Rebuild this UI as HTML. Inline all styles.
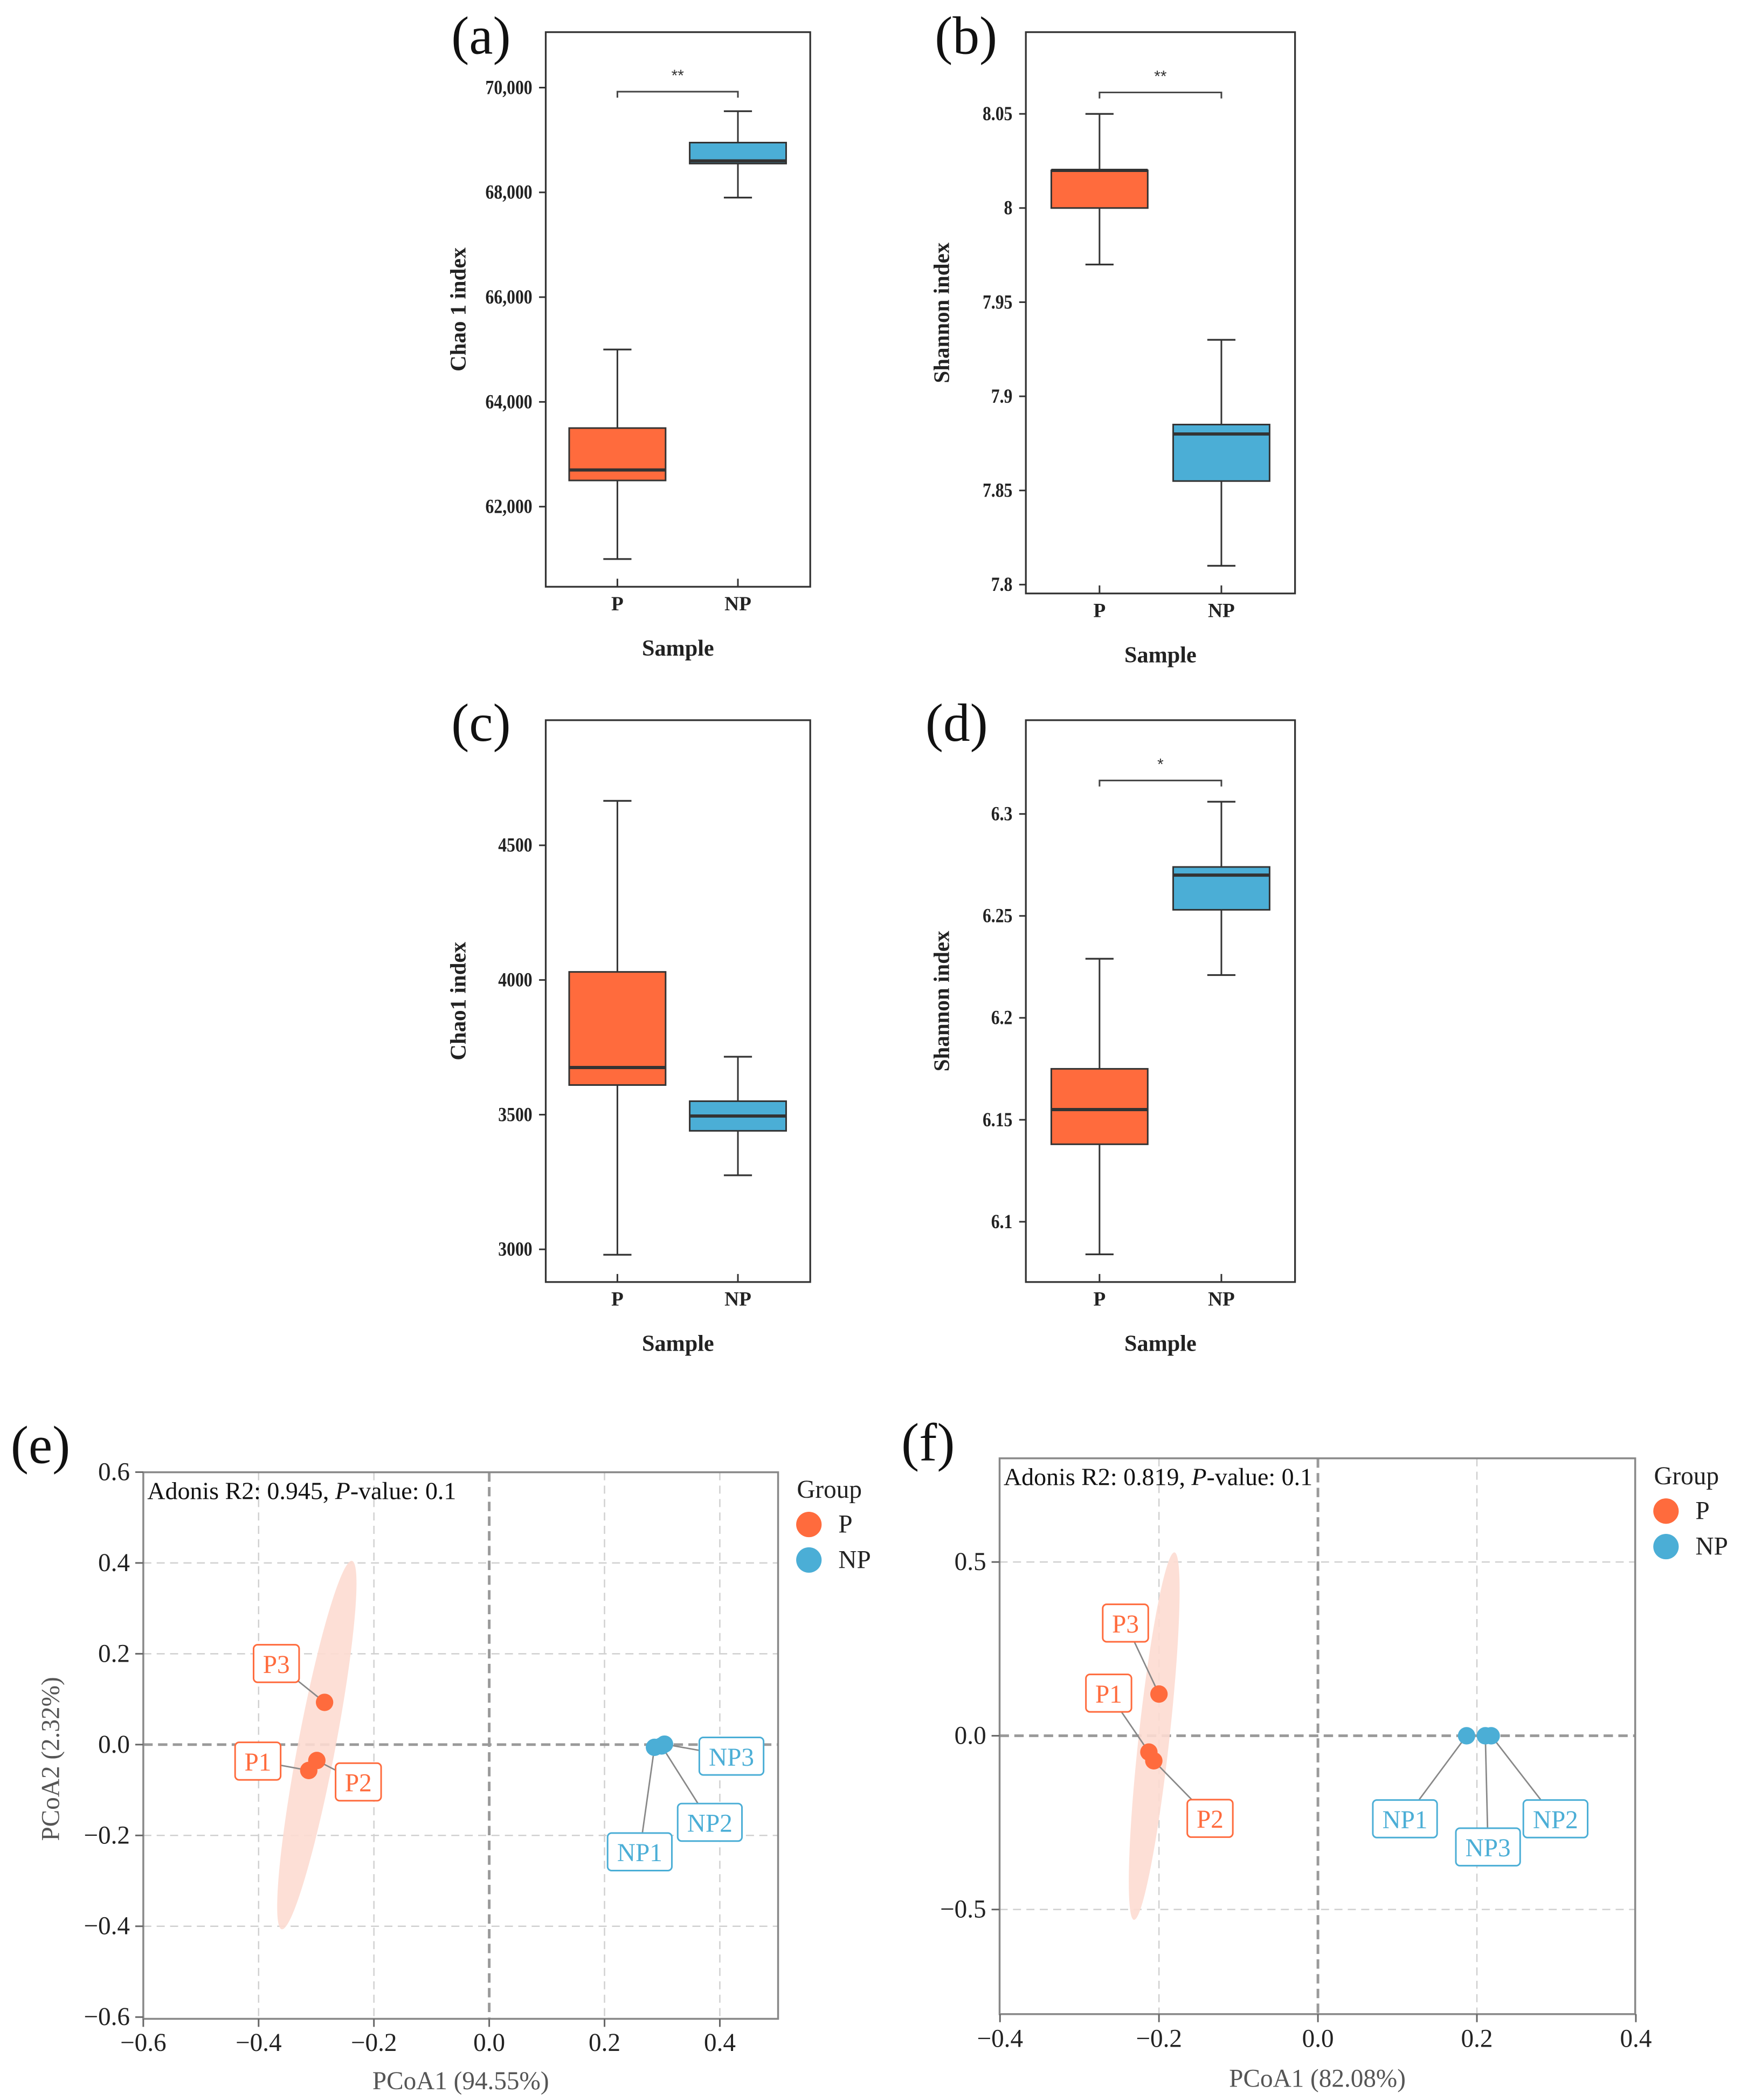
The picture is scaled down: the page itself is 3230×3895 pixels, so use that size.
<!DOCTYPE html>
<html><head><meta charset="utf-8">
<style>
html,body{margin:0;padding:0;background:#fff;}
svg{display:block;}
</style></head>
<body>
<svg id="fig" xmlns="http://www.w3.org/2000/svg" width="3230" height="3895" viewBox="0 0 1300 1567.6" preserveAspectRatio="none"></svg>
<script>
// ---------- Box plot data ----------
const boxCategories = ["P", "NP"];
const aP = [61000, 62500, 62700, 63500, 65000];
const aNP = [67900, 68550, 68600, 68950, 69550];
const aTicks = [62000, 64000, 66000, 68000, 70000];
const aTickLabels = ["62,000", "64,000", "66,000", "68,000", "70,000"];
const bP = [7.97, 8.0, 8.02, 8.02, 8.05];
const bNP = [7.81, 7.855, 7.88, 7.885, 7.93];
const bTicks = [7.8, 7.85, 7.9, 7.95, 8.0, 8.05];
const bTickLabels = ["7.8", "7.85", "7.9", "7.95", "8", "8.05"];
const cP = [2980, 3610, 3675, 4030, 4665];
const cNP = [3275, 3440, 3495, 3550, 3715];
const cTicks = [3000, 3500, 4000, 4500];
const cTickLabels = ["3000", "3500", "4000", "4500"];
const dP = [6.084, 6.138, 6.155, 6.175, 6.229];
const dNP = [6.221, 6.253, 6.27, 6.274, 6.306];
const dTicks = [6.1, 6.15, 6.2, 6.25, 6.3];
const dTickLabels = ["6.1", "6.15", "6.2", "6.25", "6.3"];

// ---------- PCoA data ----------
const sampleNames = ["P1", "P2", "P3", "NP1", "NP2", "NP3"];
const sampleGroups = ["P", "P", "P", "NP", "NP", "NP"];
const ePC1 = [-0.313, -0.299, -0.2856, 0.2866, 0.299, 0.304];
const ePC2 = [-0.057, -0.035, 0.093, -0.006, -0.003, 0.001];
const fPC1 = [-0.2127, -0.2065, -0.2, 0.187, 0.218, 0.2106];
const fPC2 = [-0.047, -0.072, 0.12, 0, 0, 0];
const eXTicks = [-0.6, -0.4, -0.2, 0.0, 0.2, 0.4];
const eYTicks = [-0.6, -0.4, -0.2, 0.0, 0.2, 0.4, 0.6];
const fXTicks = [-0.4, -0.2, 0.0, 0.2, 0.4];
const fYTicks = [-0.5, 0.0, 0.5];

const NS = "http://www.w3.org/2000/svg";
const svg = document.getElementById("fig");
const ORANGE = "#FF6B3D", BLUE = "#4BAED6";
function mk(tag, attrs, parent) {
  const e = document.createElementNS(NS, tag);
  for (const k in attrs) e.setAttribute(k, attrs[k]);
  (parent || svg).appendChild(e);
  return e;
}
function txt(s, attrs, parent) { const t = mk("text", attrs, parent); t.textContent = s; return t; }
const SERIF = "'Liberation Serif', serif";

// ---------- Box plot panel ----------
function boxPanel(o) {
  const g = mk("g", {});
  
  
  const y = v => o.y0 + (o.v0 - v) * o.k;
  const xs = [o.xP, o.xNP];
  const pl = txt(o.label, {x: o.lx, y: o.ly, "font-family": SERIF, "font-size": 40, fill: "#111"}, g);
  
  
  const fr = mk("rect", {x: o.L, y: o.T, width: o.R - o.L, height: o.B - o.T, fill: "none", stroke: "#333", "stroke-width": 1.3}, g);
  
  
  o.ticks.forEach((t, i) => {
    const yy = y(t);
    mk("line", {x1: o.L - 5, x2: o.L, y1: yy, y2: yy, stroke: "#333", "stroke-width": 1.2}, g);
    const tl = txt(o.tickLabels[i], {x: o.L - 10, y: yy, "text-anchor": "end", "dominant-baseline": "central", "font-family": SERIF, "font-weight": "bold", "font-size": 15, fill: "#222", transform: `translate(${o.L - 10},${yy}) scale(0.85,1) translate(${-(o.L - 10)},${-yy})`}, g);
    
    
  });
  boxCategories.forEach((c, i) => {
    mk("line", {x1: xs[i], x2: xs[i], y1: o.B, y2: o.B - 6, stroke: "#333", "stroke-width": 1.2}, g);
    const xl = txt(c, {x: xs[i], y: o.B + 13, "text-anchor": "middle", "dominant-baseline": "central", "font-family": SERIF, "font-weight": "bold", "font-size": 15, fill: "#222"}, g);
    
    
  });
  const xt = txt("Sample", {x: (o.L + o.R) / 2, y: o.B + 46, "text-anchor": "middle", "dominant-baseline": "central", "font-family": SERIF, "font-weight": "bold", "font-size": 17, fill: "#222"}, g);
  
  
  const cy = (o.T + o.B) / 2;
  const yt = txt(o.ytitle, {x: o.ytx, y: cy, "text-anchor": "middle", "dominant-baseline": "central", "font-family": SERIF, "font-weight": "bold", "font-size": 16.5, fill: "#222", transform: `rotate(-90 ${o.ytx} ${cy})`}, g);
  
  
  [o.P, o.NP].forEach((d, i) => {
    const cx = xs[i], col = i === 0 ? ORANGE : BLUE;
    const bg = mk("g", {}, g);
    
    
    mk("line", {x1: cx, x2: cx, y1: y(d[0]), y2: y(d[1]), stroke: "#333", "stroke-width": 1.2}, bg);
    mk("line", {x1: cx, x2: cx, y1: y(d[3]), y2: y(d[4]), stroke: "#333", "stroke-width": 1.2}, bg);
    mk("line", {x1: cx - 10.5, x2: cx + 10.5, y1: y(d[0]), y2: y(d[0]), stroke: "#333", "stroke-width": 1.3}, bg);
    mk("line", {x1: cx - 10.5, x2: cx + 10.5, y1: y(d[4]), y2: y(d[4]), stroke: "#333", "stroke-width": 1.3}, bg);
    mk("rect", {x: cx - 36, y: y(d[3]), width: 72, height: Math.max(0.5, y(d[1]) - y(d[3])), fill: col, stroke: "#333", "stroke-width": 1.2}, bg);
    mk("line", {x1: cx - 36, x2: cx + 36, y1: y(d[2]), y2: y(d[2]), stroke: "#333", "stroke-width": 2.4}, bg);
  });
  if (o.sig) {
    const by = o.sigY;
    const br = mk("path", {d: `M${xs[0]},${by + 4.5} V${by} H${xs[1]} V${by + 4.5}`, fill: "none", stroke: "#444", "stroke-width": 1.2}, g);
    
    
    const st = txt(o.sig, {x: (xs[0] + xs[1]) / 2, y: by - 8, "text-anchor": "middle", "font-family": "'Liberation Sans', sans-serif", "font-size": 12, fill: "#333"}, g);
    
    
  }
}

boxPanel({name: "panel-a-chao1", label: "(a)", lx: 337, ly: 40, L: 407.5, R: 605, T: 24, B: 438, xP: 461, xNP: 551,
  y0: 65.4, v0: 70000, k: 78.2 / 2000, P: aP, NP: aNP, ticks: aTicks, tickLabels: aTickLabels, ytitle: "Chao 1 index", ytx: 342, sig: "**", sigY: 68.4});
boxPanel({name: "panel-b-shannon", label: "(b)", lx: 698, ly: 40, L: 766, R: 967, T: 24, B: 443, xP: 821, xNP: 912,
  y0: 85, v0: 8.05, k: 1405.6, P: bP, NP: bNP, ticks: bTicks, tickLabels: bTickLabels, ytitle: "Shannon index", ytx: 703, sig: "**", sigY: 69});
boxPanel({name: "panel-c-chao1", label: "(c)", lx: 337, ly: 553, L: 407.5, R: 605, T: 537.6, B: 957, xP: 461, xNP: 551,
  y0: 631, v0: 4500, k: 301.6 / 1500, P: cP, NP: cNP, ticks: cTicks, tickLabels: cTickLabels, ytitle: "Chao1 index", ytx: 342});
boxPanel({name: "panel-d-shannon", label: "(d)", lx: 691, ly: 553, L: 766, R: 967, T: 537.6, B: 957, xP: 821, xNP: 912,
  y0: 607.6, v0: 6.3, k: 304.4 / 0.2, P: dP, NP: dNP, ticks: dTicks, tickLabels: dTickLabels, ytitle: "Shannon index", ytx: 703, sig: "*", sigY: 582.6});

// ---------- PCoA panel ----------
function pcoaPanel(o) {
  const g = mk("g", {});
  
  
  const X = v => o.x0 + v * o.kx;
  const Y = v => o.y0 - v * o.ky;
  const pl = txt(o.label, {x: o.lx, y: o.ly, "font-family": SERIF, "font-size": 40, fill: "#111"}, g);
  
  
  o.xt.forEach(t => {
    if (Math.abs(t) < 1e-9) return;
    if (X(t) <= o.L + 4 || X(t) >= o.R - 4) return;
    mk("line", {x1: X(t), x2: X(t), y1: o.T, y2: o.B, stroke: "#d0d0d0", "stroke-width": 1, "stroke-dasharray": "6,4"}, g);
  });
  o.yt.forEach(t => {
    if (Math.abs(t) < 1e-9) return;
    if (Y(t) <= o.T + 4 || Y(t) >= o.B - 4) return;
    mk("line", {x1: o.L, x2: o.R, y1: Y(t), y2: Y(t), stroke: "#d0d0d0", "stroke-width": 1, "stroke-dasharray": "6,4"}, g);
  });
  const zx = mk("line", {x1: X(0), x2: X(0), y1: o.T, y2: o.B, stroke: "#9a9a9a", "stroke-width": 2, "stroke-dasharray": "7,4"}, g);
  
  
  const zy = mk("line", {x1: o.L, x2: o.R, y1: Y(0), y2: Y(0), stroke: "#9a9a9a", "stroke-width": 2, "stroke-dasharray": "7,4"}, g);
  
  
  const el = mk("ellipse", {cx: X(o.ell[0]), cy: Y(o.ell[1]), rx: o.ell[3], ry: o.ell[2], fill: "#FDDCD2", opacity: 0.9, transform: `rotate(${o.ell[4]} ${X(o.ell[0])} ${Y(o.ell[1])})`}, g);
  
  
  const fr = mk("rect", {x: o.L, y: o.T, width: o.R - o.L, height: o.B - o.T, fill: "none", stroke: "#888", "stroke-width": 1.4}, g);
  
  
  o.xt.forEach(t => {
    mk("line", {x1: X(t), x2: X(t), y1: o.B, y2: o.B + 6, stroke: "#666", "stroke-width": 1.2}, g);
    const l = txt(t.toFixed(1).replace("-", "\u2212"), {x: X(t), y: o.xty, "text-anchor": "middle", "dominant-baseline": "central", "font-family": SERIF, "font-size": 19, fill: "#222"}, g);
    
    
  });
  o.yt.forEach(t => {
    mk("line", {x1: o.L - 6, x2: o.L, y1: Y(t), y2: Y(t), stroke: "#666", "stroke-width": 1.2}, g);
    const l = txt(t.toFixed(1).replace("-", "\u2212"), {x: o.L - 10, y: Y(t), "text-anchor": "end", "dominant-baseline": "central", "font-family": SERIF, "font-size": 19, fill: "#222"}, g);
    
    
  });
  const xt = txt(o.xtitle, {x: (o.L + o.R) / 2, y: o.xtitleY, "text-anchor": "middle", "dominant-baseline": "central", "font-family": SERIF, "font-size": 19, fill: "#555"}, g);
  
  
  if (o.ytitle) {
    const cy = o.ytitleY;
    const yt = txt(o.ytitle, {x: 38, y: cy, "text-anchor": "middle", "dominant-baseline": "central", "font-family": SERIF, "font-size": 19, fill: "#555", transform: `rotate(-90 38 ${cy})`}, g);
    
    
  }
  const an = txt("", {x: o.L + 3, y: o.T + 20, "font-family": SERIF, "font-size": 18.5, fill: "#111"}, g);
  
  
  const s1 = mk("tspan", {}, an); s1.textContent = o.adonis + ", ";
  const s2 = mk("tspan", {"font-style": "italic"}, an); s2.textContent = "P";
  const s3 = mk("tspan", {}, an); s3.textContent = "-value: 0.1";
  const pts = o.pc1.map((v, i) => [X(v), Y(o.pc2[i])]);
  pts.forEach((p, i) => {
    const off = o.offs[i];
    const ln = mk("line", {x1: p[0], y1: p[1], x2: p[0] + off[0], y2: p[1] + off[1], stroke: "#888", "stroke-width": 1.1}, g);
    
    
  });
  pts.forEach((p, i) => {
    const col = sampleGroups[i] === "P" ? ORANGE : BLUE;
    const off = o.offs[i];
    const w = sampleNames[i].length > 2 ? 48 : 34;
    const lg = mk("g", {}, g);
    
    
    mk("rect", {x: p[0] + off[0] - w / 2, y: p[1] + off[1] - 14, width: w, height: 28, rx: 3, fill: "#fff", stroke: col, "stroke-width": 1.2}, lg);
    txt(sampleNames[i], {x: p[0] + off[0], y: p[1] + off[1] + 1, "text-anchor": "middle", "dominant-baseline": "central", "font-family": SERIF, "font-size": 19, fill: col}, lg);
  });
  pts.forEach((p, i) => {
    const c = mk("circle", {cx: p[0], cy: p[1], r: 6.5, fill: sampleGroups[i] === "P" ? ORANGE : BLUE}, g);
    
    
  });
  const lgd = mk("g", {}, g);
  
  
  txt("Group", {x: o.legX, y: o.legY, "dominant-baseline": "central", "font-family": SERIF, "font-size": 19, fill: "#222"}, lgd);
  [["P", ORANGE], ["NP", BLUE]].forEach((e, i) => {
    const it = mk("g", {}, lgd);
    
    
    mk("ellipse", {cx: o.legX + 9, cy: o.legY + 26 + i * 26.5, rx: 9.5, ry: 9.5, fill: e[1]}, it);
    txt(e[0], {x: o.legX + 31, y: o.legY + 26 + i * 26.5, "dominant-baseline": "central", "font-family": SERIF, "font-size": 19, fill: "#222"}, it);
  });
}

pcoaPanel({name: "panel-e-pcoa", label: "(e)", lx: 8, ly: 1092, L: 107, R: 581, T: 1099, B: 1507,
  x0: 365.3, kx: 430.5, y0: 1302.3, ky: 339, xt: eXTicks, yt: eYTicks, pc1: ePC1, pc2: ePC2,
  offs: [[-38, -7], [31, 16], [-36, -29], [-11, 78], [36, 57], [50, 9]],
  ell: [-0.299, -0.001, 140, 14, 10.8], xty: 1525, xtitle: "PCoA1 (94.55%)", xtitleY: 1553.6,
  ytitle: "PCoA2 (2.32%)", ytitleY: 1313, adonis: "Adonis R2: 0.945", legX: 595, legY: 1112});
pcoaPanel({name: "panel-f-pcoa", label: "(f)", lx: 673, ly: 1090, L: 746.4, R: 1221, T: 1088.6, B: 1503.5,
  x0: 984.1, kx: 593.5, y0: 1295.7, ky: 259.4, xt: fXTicks, yt: fYTicks, pc1: fPC1, pc2: fPC2,
  offs: [[-30, -44], [42, 43], [-25, -53], [-46, 62], [48, 62], [2, 83]],
  ell: [-0.206, -0.001, 138, 11.5, 6.3], xty: 1522, xtitle: "PCoA1 (82.08%)", xtitleY: 1551.7,
  ytitle: null, adonis: "Adonis R2: 0.819", legX: 1235, legY: 1102});
</script>
</body></html>
